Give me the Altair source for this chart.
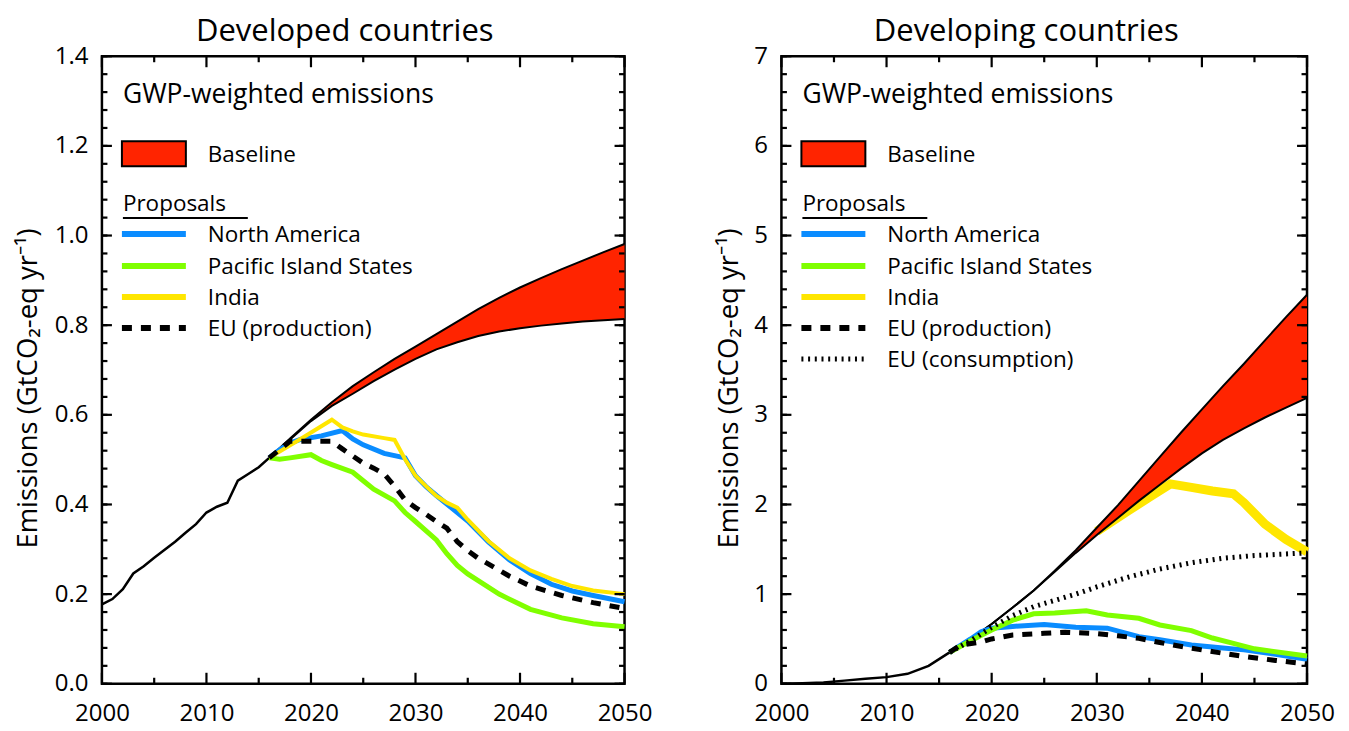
import altair as alt
import pandas as pd

FONT = "Open Sans"
RED = "#FF2400"
BLUE = "#0A8CFF"
GREEN = "#80FF00"
YELLOW = "#FFE600"
BLACK = "#000000"

YEARS_DOMAIN = [2000, 2050]
X_LABEL_VALUES = [2000, 2010, 2020, 2030, 2040, 2050]
X_MAJOR = [2000, 2010, 2020, 2030, 2040, 2050]
X_MINOR = [2005, 2015, 2025, 2035, 2045]

AXIS_TITLE = "Emissions (GtCO\u2082-eq yr\u207b\u00b9)"
LEGEND_HEADER = "GWP-weighted emissions"
BASELINE_LABEL = "Baseline"
PROPOSALS_LABEL = "Proposals"

# ---------------- Developed countries ----------------
dev_hist_year = [2000, 2001, 2002, 2003, 2004, 2005, 2006, 2007, 2008, 2009, 2010, 2011, 2012, 2013, 2014, 2015, 2016]
dev_hist_val = [0.177, 0.189, 0.211, 0.246, 0.262, 0.281, 0.299, 0.317, 0.337, 0.356, 0.382, 0.395, 0.404, 0.453, 0.468, 0.483, 0.504]

dev_band_year = [2016, 2018, 2020, 2022, 2024, 2026, 2028, 2030, 2032, 2034, 2036, 2038, 2040, 2042, 2044, 2046, 2048, 2050]
dev_band_hi = [0.504, 0.547, 0.589, 0.628, 0.664, 0.695, 0.725, 0.752, 0.780, 0.808, 0.836, 0.861, 0.884, 0.905, 0.925, 0.944, 0.963, 0.981]
dev_band_lo = [0.504, 0.545, 0.586, 0.620, 0.647, 0.675, 0.701, 0.725, 0.746, 0.762, 0.776, 0.786, 0.793, 0.799, 0.804, 0.808, 0.811, 0.814]

dev_na_year = [2016, 2017, 2018, 2019, 2021, 2023, 2024, 2025, 2027, 2029, 2030, 2031, 2032, 2033, 2035, 2037, 2039, 2041, 2043, 2045, 2047, 2050]
dev_na_val = [0.504, 0.522, 0.537, 0.545, 0.553, 0.565, 0.546, 0.533, 0.514, 0.504, 0.464, 0.440, 0.420, 0.401, 0.363, 0.316, 0.276, 0.246, 0.222, 0.207, 0.197, 0.183]

dev_pis_year = [2016, 2017, 2018, 2020, 2021, 2022, 2024, 2025, 2026, 2028, 2029, 2030, 2032, 2033, 2034, 2035, 2038, 2041, 2044, 2047, 2050]
dev_pis_val = [0.504, 0.501, 0.504, 0.511, 0.498, 0.489, 0.472, 0.453, 0.434, 0.408, 0.382, 0.362, 0.321, 0.290, 0.264, 0.245, 0.200, 0.166, 0.147, 0.134, 0.127]

dev_ind_year = [2016, 2019, 2022, 2023, 2024, 2025, 2027, 2028, 2029, 2030, 2031, 2032, 2033, 2034, 2035, 2037, 2039, 2041, 2043, 2045, 2047, 2050]
dev_ind_val = [0.504, 0.546, 0.589, 0.572, 0.563, 0.556, 0.548, 0.544, 0.501, 0.464, 0.441, 0.419, 0.404, 0.393, 0.366, 0.318, 0.280, 0.253, 0.234, 0.218, 0.208, 0.200]

dev_eup_year = [2016, 2018, 2022, 2023, 2025, 2026, 2027, 2028, 2029, 2030, 2031, 2032, 2033, 2034, 2035, 2036, 2037, 2039, 2041, 2044, 2047, 2050]
dev_eup_val = [0.504, 0.541, 0.541, 0.524, 0.492, 0.481, 0.468, 0.441, 0.410, 0.393, 0.378, 0.362, 0.347, 0.317, 0.297, 0.280, 0.267, 0.240, 0.218, 0.197, 0.181, 0.168]

dev_legend = ["North America", "Pacific Island States", "India", "EU (production)"]

# ---------------- Developing countries ----------------
dvg_hist_year = [2000, 2002, 2004, 2006, 2008, 2010, 2012, 2014, 2016]
dvg_hist_val = [0.0, 0.005, 0.015, 0.035, 0.055, 0.074, 0.111, 0.200, 0.350]

dvg_band_year = [2016, 2018, 2020, 2022, 2024, 2026, 2028, 2030, 2032, 2034, 2036, 2038, 2040, 2042, 2044, 2046, 2048, 2050]
dvg_band_hi = [0.35, 0.50, 0.667, 0.85, 1.04, 1.26, 1.49, 1.74, 1.99, 2.26, 2.53, 2.80, 3.06, 3.32, 3.57, 3.83, 4.09, 4.34]
dvg_band_lo = [0.35, 0.50, 0.667, 0.85, 1.04, 1.25, 1.46, 1.66, 1.85, 2.04, 2.22, 2.40, 2.57, 2.72, 2.85, 2.97, 3.08, 3.19]

dvg_na_year = [2016, 2018, 2019, 2020, 2022, 2025, 2028, 2031, 2034, 2036, 2039, 2042, 2044, 2047, 2050]
dvg_na_val = [0.35, 0.50, 0.58, 0.62, 0.64, 0.66, 0.63, 0.62, 0.526, 0.491, 0.433, 0.40, 0.378, 0.33, 0.274]

dvg_pis_year = [2016, 2018, 2020, 2022, 2024, 2026, 2029, 2031, 2034, 2036, 2039, 2041, 2043, 2045, 2050]
dvg_pis_val = [0.35, 0.48, 0.60, 0.71, 0.78, 0.79, 0.815, 0.767, 0.73, 0.656, 0.593, 0.51, 0.45, 0.39, 0.31]

dvg_ind_year = [2030, 2033, 2035, 2037, 2039, 2041, 2043, 2044, 2046, 2048, 2050]
dvg_ind_val = [1.70, 1.93, 2.08, 2.23, 2.19, 2.15, 2.12, 2.02, 1.78, 1.61, 1.47]

dvg_eup_year = [2016, 2017, 2019, 2020, 2022, 2025, 2027, 2030, 2032, 2034, 2036, 2039, 2042, 2044, 2047, 2050]
dvg_eup_val = [0.35, 0.43, 0.465, 0.50, 0.544, 0.563, 0.575, 0.56, 0.535, 0.507, 0.46, 0.396, 0.34, 0.304, 0.26, 0.222]

dvg_euc_year = [2016, 2018, 2020, 2022, 2024, 2026, 2028, 2030, 2033, 2036, 2039, 2042, 2045, 2050]
dvg_euc_val = [0.35, 0.48, 0.63, 0.76, 0.86, 0.93, 1.00, 1.08, 1.19, 1.28, 1.35, 1.40, 1.43, 1.46]

dvg_legend = ["North America", "Pacific Island States", "India", "EU (production)", "EU (consumption)"]

# Axis tick values
dev_y_major = [0.0, 0.2, 0.4, 0.6, 0.8, 1.0, 1.2, 1.4]
dev_y_minor = [round(i * 0.04, 2) for i in range(36)]
dvg_y_major = [0, 1, 2, 3, 4, 5, 6, 7]
dvg_y_minor = [round(i * 0.2, 1) for i in range(36)]

PLOT_H = 628
LEGEND_ROWS_Y = [178, 210, 241, 272, 303]
MAJOR_LEN = 10
MINOR_LEN = 5.5
TICK_W = 2.2


def frame(years, vals):
    return pd.DataFrame({"year": years, "val": vals})


def panel(title, title_dx, plot_w, ymax, y_major, y_minor, y_fmt, title_pad, hist, band, series,
          under_band, legend_labels, legend_styles):
    xs = alt.Scale(domain=YEARS_DOMAIN, nice=False, zero=False)
    ys = alt.Scale(domain=[0, ymax], nice=False, zero=False)

    def X(field="year:Q"):
        return alt.X(field, scale=xs, axis=None)

    def Y(field="val:Q"):
        return alt.Y(field, scale=ys, axis=None)

    def series_layer(s):
        kw = dict(color=s["color"], strokeWidth=s["width"])
        if "dash" in s:
            kw["strokeDash"] = s["dash"]
        return alt.Chart(frame(s["year"], s["val"])).mark_line(**kw).encode(x=X(), y=Y())

    layers = []
    for s in under_band:
        layers.append(series_layer(s))
    band_df = pd.DataFrame({"year": band[0], "hi": band[1], "lo": band[2]})
    layers.append(alt.Chart(band_df).mark_area(color=RED, opacity=1).encode(x=X(), y=Y("hi:Q"), y2="lo:Q"))
    layers.append(alt.Chart(band_df).mark_line(color=BLACK, strokeWidth=2).encode(x=X(), y=Y("hi:Q")))
    layers.append(alt.Chart(band_df).mark_line(color=BLACK, strokeWidth=2).encode(x=X(), y=Y("lo:Q")))
    layers.append(alt.Chart(frame(*hist)).mark_line(color=BLACK, strokeWidth=2.5).encode(x=X(), y=Y()))
    for s in series:
        layers.append(series_layer(s))

    # legend
    one = pd.DataFrame({"k": [0]})
    layers.append(alt.Chart(one).mark_text(align="left", baseline="alphabetic", font=FONT, fontSize=26.5, color=BLACK)
                  .encode(x=alt.value(21), y=alt.value(47), text=alt.value(LEGEND_HEADER)))
    layers.append(alt.Chart(one).mark_rect(fill=RED, stroke=BLACK, strokeWidth=2)
                  .encode(x=alt.value(20), x2=alt.value(84), y=alt.value(85), y2=alt.value(110)))
    layers.append(alt.Chart(one).mark_text(align="left", baseline="alphabetic", font=FONT, fontSize=22.5, color=BLACK)
                  .encode(x=alt.value(106), y=alt.value(106), text=alt.value(BASELINE_LABEL)))
    layers.append(alt.Chart(one).mark_text(align="left", baseline="alphabetic", font=FONT, fontSize=22.5, color=BLACK)
                  .encode(x=alt.value(21), y=alt.value(155), text=alt.value(PROPOSALS_LABEL)))
    layers.append(alt.Chart(one).mark_rule(color=BLACK, strokeWidth=2)
                  .encode(x=alt.value(21), x2=alt.value(146), y=alt.value(162)))
    for label, st, yy in zip(legend_labels, legend_styles, LEGEND_ROWS_Y):
        kw = dict(color=st["color"], strokeWidth=st["lw"])
        if "dash" in st:
            kw["strokeDash"] = st["dash"]
        layers.append(alt.Chart(one).mark_rule(**kw)
                      .encode(x=alt.value(20), x2=alt.value(84), y=alt.value(yy)))
        layers.append(alt.Chart(one).mark_text(align="left", baseline="alphabetic", font=FONT, fontSize=22.5, color=BLACK)
                      .encode(x=alt.value(106), y=alt.value(yy + 8), text=alt.value(label)))

    # inward tick marks on all four sides (positions from the scales)
    for vals, ln in ((y_major, MAJOR_LEN), (y_minor, MINOR_LEN)):
        tdf = pd.DataFrame({"val": vals})
        layers.append(alt.Chart(tdf).mark_rule(color=BLACK, strokeWidth=TICK_W)
                      .encode(y=Y(), x=alt.value(0), x2=alt.value(ln)))
        layers.append(alt.Chart(tdf).mark_rule(color=BLACK, strokeWidth=TICK_W)
                      .encode(y=Y(), x=alt.value(plot_w - ln), x2=alt.value(plot_w)))
    for vals, ln in ((X_MAJOR, 11), (X_MINOR, 6)):
        tdf = pd.DataFrame({"year": vals})
        layers.append(alt.Chart(tdf).mark_rule(color=BLACK, strokeWidth=TICK_W)
                      .encode(x=X(), y=alt.value(PLOT_H - ln), y2=alt.value(PLOT_H)))
        layers.append(alt.Chart(tdf).mark_rule(color=BLACK, strokeWidth=TICK_W)
                      .encode(x=X(), y=alt.value(0), y2=alt.value(ln)))

    # label axes
    dummy = pd.DataFrame({"year": YEARS_DOMAIN, "val": [0, ymax]})

    def ax(xaxis=None, yaxis=None):
        return alt.Chart(dummy).mark_point(opacity=0).encode(
            x=alt.X("year:Q", scale=xs, axis=xaxis),
            y=alt.Y("val:Q", scale=ys, axis=yaxis))

    layers.append(ax(yaxis=alt.Axis(orient="left", values=y_major, format=y_fmt, ticks=False, labelPadding=14,
                                    labelFontSize=24, title=AXIS_TITLE, titleFontSize=27.5,
                                    titlePadding=title_pad, titleY=PLOT_H / 2 + 18)))
    layers.append(ax(xaxis=alt.Axis(orient="bottom", values=X_LABEL_VALUES, format="d", ticks=False, labelPadding=18,
                                    labelFontSize=24, labelFlush=False, title=None)))

    return alt.layer(*layers).resolve_axis(x="independent", y="independent").properties(
        width=plot_w, height=PLOT_H,
        title=alt.TitleParams(title, dx=title_dx, offset=-4))


dev_series = [
    {"year": dev_na_year, "val": dev_na_val, "color": BLUE, "width": 5},
    {"year": dev_pis_year, "val": dev_pis_val, "color": GREEN, "width": 5},
    {"year": dev_ind_year, "val": dev_ind_val, "color": YELLOW, "width": 4},
    {"year": dev_eup_year, "val": dev_eup_val, "color": BLACK, "width": 5, "dash": [10, 9]},
]
dvg_under = [
    {"year": dvg_ind_year, "val": dvg_ind_val, "color": YELLOW, "width": 9},
]
dvg_series = [
    {"year": dvg_na_year, "val": dvg_na_val, "color": BLUE, "width": 5},
    {"year": dvg_pis_year, "val": dvg_pis_val, "color": GREEN, "width": 5},
    {"year": dvg_eup_year, "val": dvg_eup_val, "color": BLACK, "width": 5, "dash": [10, 9]},
    {"year": dvg_euc_year, "val": dvg_euc_val, "color": BLACK, "width": 5, "dash": [2, 4.7]},
]
legend_styles = [
    {"color": BLUE, "lw": 6},
    {"color": GREEN, "lw": 6},
    {"color": YELLOW, "lw": 6},
    {"color": BLACK, "lw": 6, "dash": [10, 9]},
    {"color": BLACK, "lw": 5, "dash": [2, 4.7]},
]

left = panel("Developed countries", -18.5, 523, 1.4, dev_y_major, dev_y_minor, ".1f", 12,
             (dev_hist_year, dev_hist_val), (dev_band_year, dev_band_hi, dev_band_lo),
             dev_series, [], dev_legend, legend_styles[:4])
right = panel("Developing countries", -18, 526, 7, dvg_y_major, dvg_y_minor, "d", 10,
              (dvg_hist_year, dvg_hist_val), (dvg_band_year, dvg_band_hi, dvg_band_lo),
              dvg_series, dvg_under, dvg_legend, legend_styles)

chart = alt.hconcat(left, right, spacing=61).properties(
    padding={"left": 5, "top": 6, "right": 5, "bottom": 2},
    background="white",
).configure_view(
    stroke=BLACK, strokeWidth=2.5
).configure_axis(
    domain=False, grid=False, labelColor=BLACK, titleColor=BLACK,
    labelFont=FONT, titleFont=FONT, titleFontWeight="normal"
).configure_title(
    font=FONT, fontSize=31, fontWeight="normal", color=BLACK, anchor="middle", frame="group"
)

chart.save("out.html", embed_options={"renderer": "svg", "actions": False})
